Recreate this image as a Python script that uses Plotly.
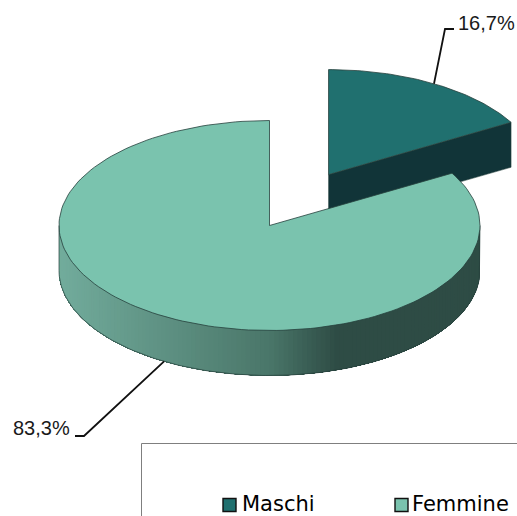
import math
import plotly.graph_objects as go

categories = ["Maschi", "Femmine"]
values = [16.7, 83.3]
value_labels = ["16,7%", "83,3%"]
top_colors = ["#20706F", "#7AC3AE"]
cut_color = "#113438"
wall_stops = [(0.0, (114, 172, 156)), (0.5, (74, 118, 105)), (0.66, (46, 76, 69)), (1.0, (46, 76, 69))]

W, H = 517, 516
CX, CY, RX, RY = 269.5, 225.5, 210.5, 105.0
DEPTH = 45
EXPLODE = [0.56, 0.0]
OUT = "#26403C"


def pt(c, theta, r=1.0):
    a = math.radians(theta)
    return c[0] + r * RX * math.sin(a), c[1] - r * RY * math.cos(a)


def arc(c, a0, a1, dy=0, n=160):
    xs, ys = [], []
    for i in range(n + 1):
        x, y = pt(c, a0 + (a1 - a0) * i / n)
        xs.append(x)
        ys.append(y + dy)
    return xs, ys


def wall_color(x):
    f = (x - (CX - RX)) / (2 * RX)
    for (f0, c0), (f1, c1) in zip(wall_stops, wall_stops[1:]):
        if f <= f1:
            t = (f - f0) / (f1 - f0)
            return "rgb(%d,%d,%d)" % tuple(round(p + (q - p) * t) for p, q in zip(c0, c1))
    return "rgb(%d,%d,%d)" % wall_stops[-1][1]


def poly(fig, xs, ys, fill, line=None, width=0.0):
    fig.add_trace(go.Scatter(x=xs, y=ys, mode="lines", fill="toself", fillcolor=fill,
                             line=dict(color=line or fill, width=width),
                             hoverinfo="skip", showlegend=False))


total = sum(values)
spans = []
start = 0.0
for v in values:
    spans.append((start, start + 360 * v / total))
    start += 360 * v / total

centers = []
for (a0, a1), e in zip(spans, EXPLODE):
    mid = (a0 + a1) / 2
    centers.append(pt((CX, CY), mid, e))

fig = go.Figure()

# exploded slice: cut face, then top
a0, a1 = spans[0]
c = centers[0]
tx, ty = pt(c, a1)
poly(fig, [c[0], tx, tx, c[0], c[0]], [c[1], ty, ty + DEPTH, c[1] + DEPTH, c[1]], cut_color, OUT, 0.5)
xs, ys = arc(c, a0, a1, n=60)
poly(fig, [c[0]] + xs + [c[0]], [c[1]] + ys + [c[1]], top_colors[0], OUT, 0.8)

# big slice: gradient outer wall, painted right to left; each strip reaches the left end,
# and the next one paints over it, so no seams show
c = centers[1]
a0, a1 = spans[1]
N = 140
for i in range(N):
    t0 = 90 + 180 * i / N
    t1 = 90 + 180 * (i + 1) / N
    col = wall_color((pt(c, t0)[0] + pt(c, t1)[0]) / 2)
    ts = [t0 + (270 - t0) * k / 60 for k in range(61)]
    px = [pt(c, t)[0] for t in ts]
    py = [pt(c, t)[1] for t in ts]
    poly(fig, px + px[::-1] + [px[0]], py + [p + DEPTH for p in py[::-1]] + [py[0]], col, col, 0)
xs, ys = arc(c, 90, 270, dy=DEPTH)
xs = [xs[0]] + xs + [xs[-1]]
ys = [ys[0] - DEPTH] + ys + [ys[-1] - DEPTH]
fig.add_trace(go.Scatter(x=xs, y=ys, mode="lines", line=dict(color=OUT, width=0.7),
                         hoverinfo="skip", showlegend=False))
xs, ys = arc(c, a0, a1)
poly(fig, [c[0]] + xs + [c[0]], [c[1]] + ys + [c[1]], top_colors[1], OUT, 0.8)

# leaders and value labels
s0 = pt(centers[0], sum(spans[0]) / 2)
fig.add_trace(go.Scatter(x=[s0[0], 445, 454], y=[s0[1], 29, 29], mode="lines",
                         line=dict(color="#111111", width=1.8), hoverinfo="skip", showlegend=False))
s1 = pt(centers[1], sum(spans[1]) / 2)
fig.add_trace(go.Scatter(x=[s1[0], 84, 75], y=[s1[1] + DEPTH, 436, 436], mode="lines",
                         line=dict(color="#111111", width=1.8), hoverinfo="skip", showlegend=False))
for txt, x, y in zip(value_labels, [456, 11], [23, 428]):
    fig.add_annotation(x=x, y=y, text=txt, showarrow=False, xanchor="left", yanchor="middle",
                       font=dict(family="Liberation Sans", size=20, color="#1a1a1a"))

# legend box and entries
fig.add_shape(type="rect", x0=141.5, y0=443.5, x1=540, y1=540, line=dict(color="#7f7f7f", width=1))
for name, col, x, tx0 in zip(categories, top_colors, [229.5, 401.5], [240, 410]):
    fig.add_trace(go.Scatter(x=[x], y=[505], mode="markers",
                             marker=dict(symbol="square", size=13, color=col, line=dict(color="#111111", width=1.4)),
                             cliponaxis=False, hoverinfo="skip", name=name, showlegend=False))
    fig.add_annotation(x=tx0, y=504, text=name, showarrow=False, xanchor="left", yanchor="middle",
                       font=dict(family="DejaVu Sans", size=21, color="#000000"))

fig.update_layout(width=W, height=H, margin=dict(l=0, r=0, t=0, b=0), autosize=False,
                  paper_bgcolor="white", plot_bgcolor="white", showlegend=False,
                  xaxis=dict(range=[0, W], visible=False, fixedrange=True),
                  yaxis=dict(range=[H, 0], visible=False, fixedrange=True))
fig.write_html("out.html", config=dict(displayModeBar=False),
               post_script="document.body.style.margin='0';")
